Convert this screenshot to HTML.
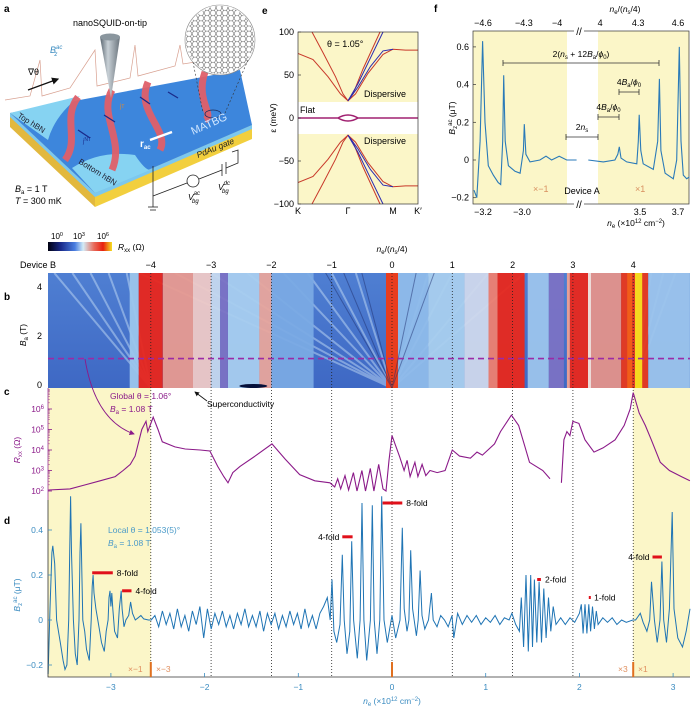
<!DOCTYPE html>
<html><head><meta charset="utf-8"><style>
html,body{margin:0;padding:0;background:#fff;}
svg{display:block;font-family:"Liberation Sans",sans-serif;}
</style></head><body>
<svg id="fig" width="696" height="712" viewBox="0 0 696 712" xmlns="http://www.w3.org/2000/svg">
<defs>
<linearGradient id="cbar" x1="0" x2="1" y1="0" y2="0">
<stop offset="0" stop-color="#000010"/><stop offset="0.2" stop-color="#1a2a8a"/><stop offset="0.42" stop-color="#4a7ee0"/><stop offset="0.55" stop-color="#d3ecf7"/><stop offset="0.72" stop-color="#e86a5a"/><stop offset="0.86" stop-color="#e82010"/><stop offset="1" stop-color="#f5e020"/>
</linearGradient>
<linearGradient id="cone" x1="0" x2="1"><stop offset="0" stop-color="#5a6670"/><stop offset="0.4" stop-color="#c8d0d6"/><stop offset="1" stop-color="#6a747c"/></linearGradient>
<linearGradient id="hmBase" x1="0" x2="0" y1="0" y2="1"><stop offset="0" stop-color="#4f7fd2"/><stop offset="1" stop-color="#3e68c4"/></linearGradient>
<pattern id="hex" width="6" height="5.2" patternUnits="userSpaceOnUse"><path d="M0,2.6 L1.5,0 L4.5,0 L6,2.6 L4.5,5.2 L1.5,5.2 Z" fill="none" stroke="#555" stroke-width="0.5"/></pattern>
<marker id="arr" markerWidth="6" markerHeight="6" refX="5" refY="3" orient="auto"><path d="M0,0 L6,3 L0,6 Z" fill="#8b1a89"/></marker>
<marker id="arrk" markerWidth="6" markerHeight="6" refX="5" refY="3" orient="auto"><path d="M0,0 L6,3 L0,6 Z" fill="#111"/></marker>
</defs>

<!-- Panel a illustration -->
<g>
<text x="4" y="12" font-size="10" font-weight="bold">a</text>
<polygon points="10,113 95,193 95,207 10,127" fill="#e2b83e"/>
<polygon points="95,193 252,125 252,139 95,207" fill="#f2cf3e"/>
<polygon points="10,113 95,193 95,197 10,117" fill="#7cc8ee"/>
<polygon points="95,193 252,125 252,129 95,197" fill="#7cc8ee"/>
<polygon points="10,113 240,70 252,125 95,193" fill="#3d86dc"/>
<path d="M10,113 L80,96 Q55,115 48,140 Z" fill="#86d3f2"/>
<path d="M72,168 Q100,150 135,155 Q145,170 150,170 L95,193 Z" fill="#86d3f2"/>
<g stroke="#e0606a" stroke-width="7" fill="none" opacity="0.95">
<path d="M78,97 C62,118 80,140 65,160"/>
<path d="M112,90 C98,115 125,140 112,170"/>
<path d="M148,82 C135,112 170,130 160,150"/>
<path d="M205,72 C195,100 215,115 205,120"/>
</g>
<g stroke="#1a2a8a" stroke-width="1.3">
<line x1="90" y1="138" x2="78" y2="130"/><line x1="115" y1="122" x2="104" y2="115"/><line x1="150" y1="104" x2="140" y2="97"/><line x1="178" y1="98" x2="168" y2="92"/>
</g>
<polyline points="5,100 30,96 40,60 42,96 70,88 95,50 97,86 130,78 135,45 138,76 175,66 180,45 183,64 240,55" fill="none" stroke="#d8a090" stroke-width="0.7"/>
<polygon points="100,37 120,37 111,98" fill="url(#cone)"/>
<ellipse cx="110" cy="37" rx="10" ry="3.5" fill="#8a969e"/>
<circle cx="220" cy="40" r="35" fill="#fff" stroke="#888" stroke-width="0.6"/>
<circle cx="220" cy="40" r="34" fill="url(#hex)"/>
<line x1="193" y1="62" x2="203" y2="113" stroke="#333" stroke-width="0.6" stroke-dasharray="2,2"/>
<line x1="248" y1="60" x2="225" y2="113" stroke="#333" stroke-width="0.6" stroke-dasharray="2,2"/>
<ellipse cx="213" cy="114" rx="8" ry="4" fill="none" stroke="#1a2a5a" stroke-width="0.8"/>
<line x1="150" y1="140" x2="172" y2="132" stroke="#fff" stroke-width="2.5"/>
<text x="73" y="26" font-size="9">nanoSQUID-on-tip</text>
<text x="50" y="53" font-size="9" fill="#3a8bc0" font-style="italic">B<tspan font-size="6" dy="-4">ac</tspan><tspan font-size="6" dx="-8" dy="7">z</tspan></text>
<text x="28" y="75" font-size="9">∇θ</text>
<line x1="28" y1="90" x2="58" y2="79" stroke="#111" stroke-width="1.2" marker-end="url(#arrk)"/>
<text x="17" y="117" font-size="8" fill="#223" transform="rotate(32 17 117)">Top hBN</text>
<text x="78" y="163" font-size="8" fill="#223" transform="rotate(32 78 163)">Bottom hBN</text>
<text x="193" y="135" font-size="11" fill="#cfe6ff" transform="rotate(-24 193 135)">MATBG</text>
<text x="198" y="158" font-size="8.5" font-style="italic" fill="#222" transform="rotate(-22 198 158)">PdAu gate</text>
<text x="140" y="147" font-size="10" fill="#fff" font-weight="bold">r<tspan font-size="6" dy="2">ac</tspan></text>
<text x="120" y="108" font-size="6" fill="#e08a30">j<tspan font-size="5">T</tspan></text>
<text x="83" y="143" font-size="6" fill="#1a2a8a">j<tspan font-size="5" dy="-2">NT</tspan></text>
<g stroke="#222" stroke-width="0.8" fill="none">
<polyline points="153,166 153,207"/><line x1="148" y1="207" x2="158" y2="207"/><line x1="150" y1="210" x2="156" y2="210"/>
<polyline points="153,196 187,183"/><circle cx="193" cy="181" r="6"/><polyline points="199,179 222,170"/>
<line x1="222" y1="164" x2="222" y2="176"/><line x1="226" y1="162" x2="226" y2="174"/>
<polyline points="226,168 238,163 238,150 232,152"/>
</g>
<text x="188" y="200" font-size="8.5" font-style="italic">V<tspan font-size="6" dy="-5">ac</tspan><tspan font-size="6" dx="-8" dy="8">bg</tspan></text>
<text x="218" y="190" font-size="8.5" font-style="italic">V<tspan font-size="6" dy="-5">dc</tspan><tspan font-size="6" dx="-8" dy="8">bg</tspan></text>
<text x="15" y="192" font-size="9"><tspan font-style="italic">B</tspan><tspan font-size="6" dy="2">a</tspan><tspan dy="-2"> = 1 T</tspan></text>
<text x="15" y="204" font-size="9"><tspan font-style="italic">T</tspan> = 300 mK</text>
</g>

<!-- colorbar -->
<g>
<rect x="48" y="242" width="64" height="9" fill="url(#cbar)"/>
<text x="51" y="239" font-size="8">10<tspan font-size="5.5" dy="-3">0</tspan></text>
<text x="73" y="239" font-size="8">10<tspan font-size="5.5" dy="-3">3</tspan></text>
<text x="97" y="239" font-size="8">10<tspan font-size="5.5" dy="-3">6</tspan></text>
<text x="118" y="250" font-size="8.5"><tspan font-style="italic">R</tspan><tspan font-size="6" dy="2">xx</tspan><tspan dy="-2"> (Ω)</tspan></text>
</g>

<text x="262" y="14" font-size="10" font-weight="bold">e</text>
<text x="434" y="12" font-size="10" font-weight="bold">f</text>
<text x="4" y="300" font-size="10" font-weight="bold">b</text>
<text x="4" y="395" font-size="10" font-weight="bold">c</text>
<text x="4" y="524" font-size="10" font-weight="bold">d</text>
</svg>
<script>
// ---------- data ----------
// panel c: nu vs log10 Rxx (null = gap)
const cNu = [-5.70,-5.34,-5.09,-4.84,-4.59,-4.46,-4.34,-4.26,-4.15,-4.08,-4.05,-3.96,-3.88,-3.81,-3.60,-3.43,-3.18,-3.02,-2.89,-2.79,-2.72,-2.64,-2.52,-2.27,-1.99,-1.77,-1.53,-1.28,-1.03,-0.95,-0.9,-0.85,-0.78,-0.72,-0.64,-0.58,-0.5,-0.44,-0.36,-0.3,-0.22,-0.15,-0.1,-0.05,0.0,0.05,0.13,0.2,0.25,0.3,0.38,0.43,0.5,0.56,0.63,0.75,0.88,1.0,1.12,1.3,1.41,1.5,1.7,1.8,1.98,2.1,2.2,2.28,2.5,2.62,2.7,2.81,2.85,2.9,2.95,3.0,3.1,3.2,3.35,3.5,3.7,3.85,3.95,4.0,4.05,4.1,4.2,4.3,4.45,4.6,4.8,4.94];
const cLogR = [2.05,2.1,2.3,2.5,2.7,3.0,3.3,3.7,5.0,5.4,4.9,5.6,5.0,4.4,4.15,4.05,4.0,3.95,3.2,2.7,2.4,2.9,3.2,3.7,4.3,3.55,2.8,2.5,2.4,2.2,2.6,2.1,2.75,2.05,2.9,2.0,3.0,2.0,3.1,2.0,3.3,2.1,2.0,3.5,4.7,4.3,3.65,3.0,3.5,2.7,3.4,2.7,3.3,2.75,3.0,2.9,3.0,4.0,3.7,3.6,3.9,3.75,4.3,4.9,5.7,5.2,4.2,3.4,3.0,2.6,null,2.4,4.5,4.9,4.7,5.4,5.3,4.5,3.9,4.1,4.5,5.2,6.0,6.8,6.3,5.8,5.2,4.5,3.4,3.0,2.7,2.5];
const cTicks = [2,3,4,5,6];
// panel d: n_e (1e12 cm^-2) vs Bz (uT)
const dNe = [-3.67,-3.65,-3.63,-3.62,-3.60,-3.58,-3.54,-3.51,-3.49,-3.47,-3.45,-3.44,-3.43,-3.42,-3.40,-3.38,-3.36,-3.34,-3.33,-3.32,-3.31,-3.30,-3.28,-3.26,-3.23,-3.21,-3.20,-3.19,-3.18,-3.16,-3.14,-3.12,-3.10,-3.07,-3.05,-3.03,-3.02,-3.01,-3.00,-2.99,-2.98,-2.96,-2.93,-2.91,-2.89,-2.88,-2.86,-2.84,-2.81,-2.79,-2.77,-2.74,-2.71,-2.68,-2.65,-2.60,-2.57,
-2.53,-2.49,-2.45,-2.41,-2.37,-2.33,-2.29,-2.25,-2.21,-2.17,-2.13,-2.09,-2.05,-2.01,-1.97,-1.93,-1.89,-1.85,-1.81,-1.77,-1.73,-1.69,-1.65,-1.61,-1.57,-1.53,-1.49,-1.45,-1.41,-1.37,-1.33,-1.29,-1.25,-1.21,-1.17,-1.13,-1.09,-1.05,-1.01,-0.97,-0.93,-0.89,-0.85,-0.81,-0.77,-0.73,-0.69,
-0.66,-0.64,-0.62,-0.59,-0.555,-0.53,-0.51,-0.48,-0.45,-0.43,-0.41,-0.37,-0.34,-0.32,-0.30,-0.27,-0.23,-0.21,-0.19,-0.16,-0.13,-0.11,-0.085,-0.05,0.0,0.04,0.085,0.11,0.13,0.16,0.18,0.20,0.22,0.26,0.28,0.30,0.32,0.35,0.39,0.42,0.44,0.48,0.52,
0.56,0.6,0.64,0.66,0.7,0.75,0.8,0.85,0.9,0.95,1.0,1.05,1.1,1.15,1.2,1.25,1.28,1.32,
1.36,1.38,1.405,1.43,1.455,1.48,1.50,1.52,1.545,1.57,1.595,1.62,1.645,1.67,1.695,1.72,1.75,
1.8,1.85,1.9,1.95,2.0,2.02,2.04,2.06,2.08,2.10,2.12,2.14,2.16,2.18,2.2,2.25,2.3,2.35,2.4,2.45,2.5,2.57,
2.6,2.65,2.68,2.72,2.75,2.77,2.80,2.83,2.86,2.88,2.90,2.93,2.96,2.99,3.01,3.05,3.10,3.14,3.18];
const dB = [-0.24,0.05,0.3,0.33,0.25,0.0,-0.1,-0.18,-0.22,-0.2,0.0,0.3,0.55,0.3,0.0,-0.15,-0.2,0.0,0.3,0.43,0.2,0.0,-0.05,-0.13,-0.18,0.0,0.15,0.2,0.12,0.05,0.0,-0.05,-0.1,-0.14,-0.05,0.0,0.1,0.13,0.06,0.12,0.05,-0.05,-0.08,0.05,0.13,0.05,-0.03,0.0,0.02,0.08,0.03,0.0,0.01,0.02,0.005,0.0,0.0,
0.02,-0.03,0.04,-0.02,0.03,-0.04,0.05,-0.03,0.02,-0.05,0.04,-0.02,0.06,-0.08,0.05,-0.04,0.03,-0.02,0.04,-0.03,0.02,-0.04,0.03,-0.02,0.05,-0.03,0.02,-0.03,0.04,-0.05,0.03,-0.02,0.03,-0.04,0.02,-0.03,0.04,-0.02,0.03,-0.04,0.05,-0.03,0.02,-0.04,0.03,0.06,0.1,
0.0,0.18,-0.05,-0.1,-0.02,0.29,0.0,-0.15,-0.05,0.35,0.0,-0.17,0.0,0.52,0.0,-0.18,0.0,0.51,0.0,-0.15,0.0,0.55,0.0,-0.1,0.02,-0.08,0.0,0.41,0.05,-0.05,0.0,0.31,0.05,-0.07,0.0,0.22,0.02,-0.04,0.0,0.12,0.0,-0.03,0.02,
0.0,-0.03,0.02,-0.08,0.03,-0.02,0.02,-0.01,0.02,-0.02,0.01,-0.01,0.02,-0.02,0.01,0.0,0.03,-0.02,
-0.05,0.1,-0.12,0.2,-0.14,0.2,-0.12,0.18,-0.1,0.17,-0.1,0.14,-0.08,0.1,-0.05,0.06,-0.02,
0.01,-0.02,0.01,-0.01,0.03,0.07,-0.06,0.07,-0.06,0.07,-0.05,0.06,-0.04,0.04,-0.02,0.01,-0.01,0.01,-0.02,0.0,-0.01,0.0,
0.0,0.03,-0.01,-0.05,0.0,0.17,0.0,-0.1,0.0,0.26,0.0,-0.1,0.05,0.48,0.05,-0.08,-0.12,-0.05,0.05];
const dTicksY = [-0.2,0,0.2,0.4];
const dTicksX = [-3,-2,-1,0,1,2,3];
const nuTicks = [-4,-3,-2,-1,0,1,2,3,4];
const bTicks = [0,2,4];
// d fold markers: [ne start, ne end, B, label]
const foldNe0 = [-3.20,-2.88,-0.53,-0.10,1.55,2.10,2.78];
const foldNe1 = [-2.98,-2.78,-0.42,0.11,1.59,2.115,2.88];
const foldB = [0.21,0.13,0.37,0.52,0.18,0.10,0.28];
const foldLabels = ['8-fold','4-fold','4-fold','8-fold','2-fold','1-fold','4-fold'];
// panel f
const fLeftNe = [-3.246,-3.232,-3.215,-3.202,-3.19,-3.173,-3.147,-3.122,-3.109,-3.099,-3.094,-3.086,-3.07,-3.036,-3.01,-2.993,-2.988,-2.98,-2.959,-2.908,-2.877,-2.848,-2.809,-2.771,-2.72];
const fLeftB = [-0.16,-0.2,0.1,0.63,0.2,-0.03,-0.08,-0.12,-0.13,0.1,0.45,0.1,-0.03,-0.06,-0.07,0.05,0.19,0.03,-0.01,0.0,0.02,0.0,0.02,0.0,0.0];
const fRightNe = [3.228,3.307,3.368,3.383,3.391,3.40,3.43,3.483,3.491,3.496,3.504,3.517,3.57,3.593,3.602,3.61,3.632,3.675,3.693,3.707,3.716,3.728,3.746,3.759];
const fRightB = [0.0,-0.01,0.0,0.03,0.07,0.01,-0.01,-0.02,0.1,0.24,0.05,-0.02,-0.05,0.1,0.43,0.05,-0.07,-0.1,0.0,0.6,0.1,-0.08,-0.1,-0.09];
const fTicksY = [-0.2,0,0.2,0.4,0.6];
const fTicksLeft = [-3.2,-3.0];
const fTicksRight = [3.5,3.7];
const fTopLeft = ['−4.6','−4.3','−4'];
const fTopLeftNe = [-3.2,-2.99,-2.82];
const fTopRight = ['4','4.3','4.6'];
const fTopRightNe = [3.29,3.49,3.70];
// panel e bands
const eK = [0,0.3,0.6,0.85,1,1.15,1.4,1.7,1.9,2.15,2.4];
const eRedB = [75,68,48,28,20,28,52,74,80,79,79];
const eAk = [0.28,0.5,0.75,0.9,1,1.1,1.3,1.64];
const eRedA = [100,76,48,28,20,28,57,100];
const eBlueK = [1,1.2,1.45,1.7,1.9];
const eBlue1 = [20,40,70,100,120];
const eBlue2 = [20,36,60,78,80];
const eTicks = [-100,-50,0,50,100];
const eKLabels = ['K','Γ','M','K′'];
const eKPos = [0,1,1.9,2.4];
// panel b heatmap bands: nu start, nu end
const hmStart = [-4.35,-4.2,-3.8,-3.3,-3.0,-2.85,-2.72,-2.2,-2.0,-0.1,0.1,0.6,1.2,1.6,1.75,2.25,2.6,2.9,2.95,3.25,3.3,3.8,3.9,4.03,4.25];
const hmEnd = [-4.2,-3.8,-3.3,-3.0,-2.85,-2.72,-2.2,-2.0,-1.3,0.1,0.6,1.2,1.6,1.75,2.2,2.6,2.85,2.95,3.25,3.3,3.8,4.25,3.98,4.15,4.94];
const hmColor = ['#9cc6ec','#e8261c','#e89a90','#eec9c6','#c5d8ee','#7b72c4','#a8cdef','#e8a59c','#7aaae4','#f03a14','#8fbcea','#a9cfee','#cfd8ec','#ee8070','#e8281c','#9cc4ec','#7b72c4','#f0a090','#e8281c','#f5e0d8','#e4928a','#e8381c','#f06018','#f5e020','#9cc4ec'];

// ---------- scales ----------
const NS='http://www.w3.org/2000/svg';
const svg=document.getElementById('fig');
function mk(tag,attrs,parent){const e=document.createElementNS(NS,tag);for(const k in attrs)e.setAttribute(k,attrs[k]);(parent||svg).appendChild(e);return e;}
function txt(x,y,s,attrs,parent){const t=mk('text',Object.assign({x:x,y:y,'font-size':9},attrs),parent);t.textContent=s;return t;}
const xNu=nu=>392+nu*60.3;
const xNe=ne=>392+ne*93.7;
const yBa=b=>385-b*24.5;
const yLog=l=>491-(l-2)*20.5;
const yD=b=>620-b*225;
const xE=k=>298+k*50;
const yE=e=>118-e*0.86;
const xFL=ne=>483+(ne+3.2)*195;
const xFR=ne=>640+(ne-3.5)*190;
const yF=b=>160-b*188.5;

// ---------- panel e ----------
const ge=mk('g',{});


const eBg1=mk('rect',{x:298,y:32,width:120,height:70,fill:'#fbf6c8'},ge);


const eBg2=mk('rect',{x:298,y:134,width:120,height:70,fill:'#fbf6c8'},ge);


const clipE=mk('clipPath',{id:'clipE'},ge);mk('rect',{x:298,y:32,width:120,height:172},clipE);
function bandPath(ks,es,sign,color,name){
  let d='';ks.forEach((k,i)=>{d+=(i?'L':'M')+xE(k).toFixed(1)+','+yE(sign*es[i]).toFixed(1);});
  const p=mk('path',{d:d,fill:'none',stroke:color,'stroke-width':1,'clip-path':'url(#clipE)'},ge);
  
  
}
[1,-1].forEach(s=>{
  bandPath(eK,eRedB,s,'#c8382a',s>0?'band-red-b-upper':'band-red-b-lower');
  bandPath(eAk,eRedA,s,'#c8382a',s>0?'band-red-a-upper':'band-red-a-lower');
  bandPath(eBlueK,eBlue1,s,'#2a2ab0',s>0?'band-blue-1-upper':'band-blue-1-lower');
  bandPath(eBlueK,eBlue2,s,'#2a2ab0',s>0?'band-blue-2-upper':'band-blue-2-lower');
});
const flat=mk('path',{d:`M${xE(0)},118 L${xE(0.8)},118 Q${xE(1)},112 ${xE(1.2)},118 L${xE(2.4)},118 M${xE(0.8)},118 Q${xE(1)},124 ${xE(1.2)},118`,fill:'none',stroke:'#a02070','stroke-width':1.6},ge);


const eAx=mk('rect',{x:298,y:32,width:120,height:172,fill:'none',stroke:'#333','stroke-width':0.7},ge);


eTicks.forEach(v=>{
  mk('line',{x1:298,x2:301,y1:yE(v),y2:yE(v),stroke:'#333','stroke-width':0.7},ge);
  const t=txt(294,yE(v)+3,(v<0?'−':'')+Math.abs(v),{'text-anchor':'end'},ge);
  
  
});
eKLabels.forEach((s,i)=>{
  const t=txt(xE(eKPos[i]),214,s,{'text-anchor':'middle'},ge);
  
  
});
const eyl=txt(0,0,'ε (meV)',{'text-anchor':'middle',transform:'translate(276,118) rotate(-90)','font-size':8.5},ge);


const eth=txt(327,47,'θ = 1.05°',{},ge);


const efl=txt(300,113,'Flat',{},ge);


const ed1=txt(364,97,'Dispersive',{},ge);


const ed2=txt(364,144,'Dispersive',{},ge);



// ---------- panel f ----------
const gf=mk('g',{});


const fy1=mk('rect',{x:473,y:31,width:94,height:173,fill:'#fbf6c8'},gf);


const fy2=mk('rect',{x:598,y:31,width:91,height:173,fill:'#fbf6c8'},gf);


mk('rect',{x:473,y:31,width:216,height:173,fill:'none',stroke:'#333','stroke-width':0.7},gf);
mk('rect',{x:574,y:27,width:10,height:181,fill:'#fff'},gf);
txt(579,35,'//',{'text-anchor':'middle','font-size':10},gf);
txt(579,208,'//',{'text-anchor':'middle','font-size':10},gf);
function fLine(ne,b,xs,name){
  let d='';ne.forEach((n,i)=>{d+=(i?'L':'M')+xs(n).toFixed(1)+','+yF(b[i]).toFixed(1);});
  const p=mk('path',{d:d,fill:'none',stroke:'#2a7ab8','stroke-width':1.1},gf);
  
  
}
fLine(fLeftNe,fLeftB,xFL,'f-series-hole-side');
fLine(fRightNe,fRightB,xFR,'f-series-electron-side');
fTicksY.forEach(v=>{
  mk('line',{x1:473,x2:476,y1:yF(v),y2:yF(v),stroke:'#333','stroke-width':0.7},gf);
  const t=txt(469,yF(v)+3,v===0?'0':(v<0?'−':'')+Math.abs(v).toFixed(1),{'text-anchor':'end'},gf);
  
  
});
fTicksLeft.forEach(v=>{
  const t=txt(xFL(v),215,'−'+Math.abs(v).toFixed(1),{'text-anchor':'middle'},gf);
  
  
});
fTicksRight.forEach(v=>{
  const t=txt(xFR(v),215,v.toFixed(1),{'text-anchor':'middle'},gf);
  
  
});
fTopLeft.forEach((s,i)=>{
  const t=txt(xFL(fTopLeftNe[i]),26,s,{'text-anchor':'middle'},gf);
  
  
});
fTopRight.forEach((s,i)=>{
  const t=txt(xFR(fTopRightNe[i]),26,s,{'text-anchor':'middle'},gf);
  
  
});
const ftt=txt(625,12,'',{'text-anchor':'middle','font-size':8.5},gf);ftt.innerHTML='<tspan font-style="italic">n</tspan><tspan font-size="6" dy="2">e</tspan><tspan dy="-2">/(</tspan><tspan font-style="italic">n</tspan><tspan font-size="6" dy="2">s</tspan><tspan dy="-2">/4)</tspan>';


const fxt=txt(636,226,'',{'text-anchor':'middle','font-size':8.5},gf);fxt.innerHTML='<tspan font-style="italic">n</tspan><tspan font-size="6" dy="2">e</tspan><tspan dy="-2"> (×10</tspan><tspan font-size="6" dy="-3">12</tspan><tspan dy="3"> cm</tspan><tspan font-size="6" dy="-3">−2</tspan><tspan dy="3">)</tspan>';


const fyt=txt(0,0,'',{'text-anchor':'middle','font-size':8.5,transform:'translate(455,118) rotate(-90)'},gf);fyt.innerHTML='<tspan font-style="italic">B</tspan><tspan font-size="6" dy="2">z</tspan><tspan font-size="6" dy="-5">ac</tspan><tspan dy="3"> (μT)</tspan>';


function bracket(x1,x2,y,label,ly,name){
  const g=mk('g',{},gf);
  
  
  mk('path',{d:`M${x1},${y-3}V${y+3}M${x1},${y}H${x2}M${x2},${y-3}V${y+3}`,stroke:'#333','stroke-width':0.8,fill:'none'},g);
  const t=txt((x1+x2)/2,ly,'',{'text-anchor':'middle','font-size':8.5},g);t.innerHTML=label;
}
bracket(503,659,63,'2(<tspan font-style="italic">n</tspan><tspan font-size="6" dy="2">s</tspan><tspan dy="-2"> + 12</tspan><tspan font-style="italic">B</tspan><tspan font-size="6" dy="2">a</tspan><tspan dy="-2">/</tspan><tspan font-style="italic">ϕ</tspan><tspan font-size="6" dy="2">0</tspan><tspan dy="-2">)</tspan>',57,'bracket-2ns-12ba');
bracket(619,639,92,'4<tspan font-style="italic">B</tspan><tspan font-size="6" dy="2">a</tspan><tspan dy="-2">/</tspan><tspan font-style="italic">ϕ</tspan><tspan font-size="6" dy="2">0</tspan>',85,'bracket-4ba-upper');
bracket(598,619,117,'4<tspan font-style="italic">B</tspan><tspan font-size="6" dy="2">a</tspan><tspan dy="-2">/</tspan><tspan font-style="italic">ϕ</tspan><tspan font-size="6" dy="2">0</tspan>',110,'bracket-4ba-lower');
bracket(566,598,137,'2<tspan font-style="italic">n</tspan><tspan font-size="6" dy="2">s</tspan>',130,'bracket-2ns');
const fm1=txt(533,192,'×−1',{'fill':'#d89060'},gf);


const fda=txt(582,194,'Device A',{'text-anchor':'middle'},gf);


const fm2=txt(635,192,'×1',{'fill':'#d89060'},gf);



// ---------- panel b heatmap ----------
const gb=mk('g',{});


const clipB=mk('clipPath',{id:'clipB'},gb);mk('rect',{x:48,y:273,width:642,height:115},clipB);
const hb=mk('rect',{x:48,y:273,width:642,height:115,fill:'url(#hmBase)'},gb);


const fans=mk('g',{'clip-path':'url(#clipB)',stroke:'#cfe6fa','stroke-width':2,opacity:0.45},gb);


[-0.3,-0.5,-0.7,-0.9,-1.2,-1.5,-1.8,-2.1].forEach(t=>mk('line',{x1:xNu(0),y1:388,x2:xNu(t*2),y2:273},fans));
[0.3,0.5,0.8,1.1].forEach(t=>mk('line',{x1:xNu(0),y1:388,x2:xNu(t*2),y2:273},fans));
[-0.4,-0.7,-1.0,-1.3,-1.6].forEach(t=>mk('line',{x1:xNu(-4),y1:388,x2:xNu(-4+t),y2:273},fans));
[0.3,0.5,0.7].forEach(t=>mk('line',{x1:xNu(4),y1:388,x2:xNu(4+t),y2:273},fans));
hmStart.forEach((s,i)=>{
  const r=mk('rect',{x:xNu(s).toFixed(1),y:273,width:(xNu(hmEnd[i])-xNu(s)).toFixed(1),height:115,fill:hmColor[i],opacity:0.95,'clip-path':'url(#clipB)'},gb);
  
  
});
const dfans=mk('g',{'clip-path':'url(#clipB)',stroke:'#203070','stroke-width':1,opacity:0.5},gb);


[-0.5,-0.8,-1.1].forEach(t=>mk('line',{x1:xNu(0),y1:388,x2:xNu(t),y2:273},dfans));
[0.4,0.7].forEach(t=>mk('line',{x1:xNu(0),y1:388,x2:xNu(t),y2:273},dfans));
const sc=mk('ellipse',{cx:xNu(-2.3),cy:386,rx:14,ry:2,fill:'#05103a'},gb);


const dash=mk('line',{x1:48,x2:690,y1:yBa(1.08),y2:yBa(1.08),stroke:'#9b2aa6','stroke-width':1.6,'stroke-dasharray':'6,4'},gb);


bTicks.forEach(v=>{
  const t=txt(42,yBa(v)+3,String(v),{'text-anchor':'end'},gb);
  
  
});
nuTicks.forEach(v=>{
  const t=txt(xNu(v),268,(v<0?'−':'')+Math.abs(v),{'text-anchor':'middle'},gb);
  
  
});
const dvb=txt(20,268,'Device B',{},gb);


const nut=txt(392,252,'',{'text-anchor':'middle','font-size':8.5},gb);nut.innerHTML='<tspan font-style="italic">n</tspan><tspan font-size="6" dy="2">e</tspan><tspan dy="-2">/(</tspan><tspan font-style="italic">n</tspan><tspan font-size="6" dy="2">s</tspan><tspan dy="-2">/4)</tspan>';


const byl=txt(0,0,'',{'text-anchor':'middle','font-size':8.5,transform:'translate(26,335) rotate(-90)'},gb);byl.innerHTML='<tspan font-style="italic">B</tspan><tspan font-size="6" dy="2">a</tspan><tspan dy="-2"> (T)</tspan>';



// ---------- panel c & d backgrounds ----------
const gcd=mk('g',{});


const yl=mk('rect',{x:48,y:388,width:xNu(-4)-48,height:289,fill:'#fbf6c8'},gcd);


const yr=mk('rect',{x:xNu(4),y:388,width:690-xNu(4),height:289,fill:'#fbf6c8'},gcd);


nuTicks.forEach(v=>{
  const l=mk('line',{x1:xNu(v),x2:xNu(v),y1:273,y2:677,stroke:'#222','stroke-width':0.8,'stroke-dasharray':'1,2'},gcd);
  
  
});
// c curve
let cd='',pen=false;
cNu.forEach((n,i)=>{const v=cLogR[i];if(v===null){pen=false;return;}cd+=(pen?'L':'M')+xNu(n).toFixed(1)+','+yLog(v).toFixed(1);pen=true;});
const cp=mk('path',{d:cd,fill:'none',stroke:'#8b1a89','stroke-width':1.1},gcd);


mk('line',{x1:48,x2:48,y1:388,y2:500,stroke:'#8b1a89','stroke-width':0.7},gcd);
cTicks.forEach(v=>{
  mk('line',{x1:48,x2:52,y1:yLog(v),y2:yLog(v),stroke:'#8b1a89','stroke-width':0.8},gcd);
  for(let m=2;m<10;m++){const yy=yLog(v+Math.log10(m));if(yy>388)mk('line',{x1:48,x2:50,y1:yy,y2:yy,stroke:'#8b1a89','stroke-width':0.4},gcd);}
  const t=txt(44,yLog(v)+3,'',{'text-anchor':'end',fill:'#8b1a89','font-size':8.5},gcd);t.innerHTML='10<tspan font-size="6" dy="-3">'+v+'</tspan>';
  
  
});
const cyl=txt(0,0,'',{'text-anchor':'middle','font-size':8.5,fill:'#8b1a89',transform:'translate(20,450) rotate(-90)'},gcd);cyl.innerHTML='<tspan font-style="italic">R</tspan><tspan font-size="6" dy="2">xx</tspan><tspan dy="-2"> (Ω)</tspan>';


const g1=txt(110,399,'Global θ = 1.06°',{fill:'#8b1a89','font-size':8.5},gcd);


const g2=txt(110,412,'',{fill:'#8b1a89','font-size':8.5},gcd);g2.innerHTML='<tspan font-style="italic">B</tspan><tspan font-size="6" dy="2">a</tspan><tspan dy="-2"> = 1.08 T</tspan>';


const ca=mk('path',{d:'M85,359 Q95,420 134,434',fill:'none',stroke:'#8b1a89','stroke-width':0.9,'marker-end':'url(#arr)'},gcd);


const sct=txt(207,407,'Superconductivity',{'font-size':8.5},gcd);


mk('line',{x1:207,y1:401,x2:195,y2:392,stroke:'#111','stroke-width':0.8,'marker-end':'url(#arrk)'},gcd);

// d curve
let dd='';dNe.forEach((n,i)=>{dd+=(i?'L':'M')+xNe(n).toFixed(1)+','+yD(dB[i]).toFixed(1);});
const dp=mk('path',{d:dd,fill:'none',stroke:'#1f74b4','stroke-width':1},gcd);


mk('path',{d:'M48,500V677H690',fill:'none',stroke:'#333','stroke-width':0.8},gcd);
dTicksY.forEach(v=>{
  mk('line',{x1:48,x2:52,y1:yD(v),y2:yD(v),stroke:'#3a8bc0','stroke-width':0.8},gcd);
  const t=txt(43,yD(v)+3,v===0?'0':(v<0?'−':'')+Math.abs(v).toFixed(1),{'text-anchor':'end',fill:'#3a8bc0','font-size':8.5},gcd);
  
  
});
dTicksX.forEach(v=>{
  mk('line',{x1:xNe(v),x2:xNe(v),y1:677,y2:673,stroke:'#3a8bc0','stroke-width':0.8},gcd);
  const t=txt(xNe(v),690,(v<0?'−':'')+Math.abs(v),{'text-anchor':'middle',fill:'#3a8bc0','font-size':8.5},gcd);
  
  
});
const dxl=txt(392,704,'',{'text-anchor':'middle','font-size':8.5,fill:'#3a8bc0'},gcd);dxl.innerHTML='<tspan font-style="italic">n</tspan><tspan font-size="6" dy="2">e</tspan><tspan dy="-2"> (×10</tspan><tspan font-size="6" dy="-3">12</tspan><tspan dy="3"> cm</tspan><tspan font-size="6" dy="-3">−2</tspan><tspan dy="3">)</tspan>';


const dyl=txt(0,0,'',{'text-anchor':'middle','font-size':8.5,fill:'#3a8bc0',transform:'translate(20,595) rotate(-90)'},gcd);dyl.innerHTML='<tspan font-style="italic">B</tspan><tspan font-size="6" dy="2">z</tspan><tspan font-size="6" dy="-5">ac</tspan><tspan dy="3"> (μT)</tspan>';


const l1=txt(108,533,'Local θ = 1.053(5)°',{fill:'#4a9ac8','font-size':8.5},gcd);


const l2=txt(108,546,'',{fill:'#4a9ac8','font-size':8.5},gcd);l2.innerHTML='<tspan font-style="italic">B</tspan><tspan font-size="6" dy="2">a</tspan><tspan dy="-2"> = 1.08 T</tspan>';


foldB.forEach((b,i)=>{
  const x0=xNe(foldNe0[i]),x1=xNe(foldNe1[i]);
  const r=mk('rect',{x:x0.toFixed(1),y:(yD(b)-1.5).toFixed(1),width:Math.max(2,x1-x0).toFixed(1),height:3,fill:'#e0101a'},gcd);
  
  
  const left=(i===2||i===6);
  const t=txt(left?x0-3:x1+4,yD(b)+3,foldLabels[i],{'text-anchor':left?'end':'start','font-size':8.5},gcd);
  
  
});
[-4,0,4].forEach(v=>{
  const l=mk('line',{x1:xNu(v),x2:xNu(v),y1:662,y2:677,stroke:'#e07020','stroke-width':2},gcd);
  
  
});
[['×−1',128],['×−3',156],['×3',618],['×1',638]].forEach(p=>{
  const t=txt(p[1],672,p[0],{fill:'#e09060','font-size':8.5},gcd);
  
  
});
</script>
</body></html>
